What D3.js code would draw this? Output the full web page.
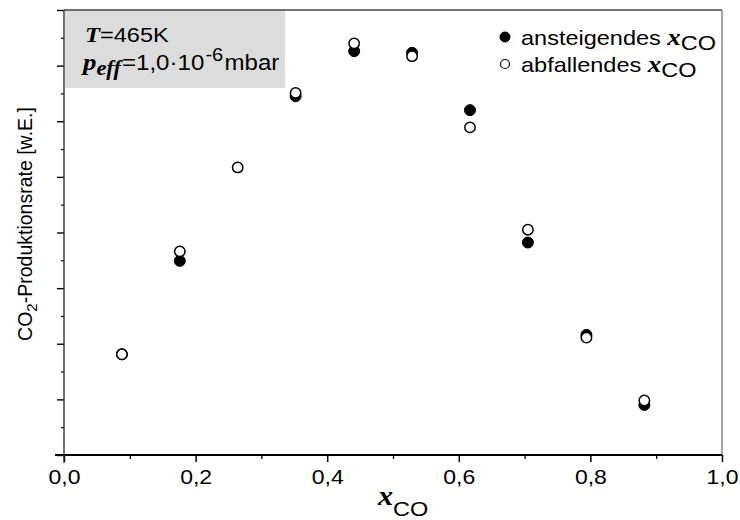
<!DOCTYPE html>
<html>
<head>
<meta charset="utf-8">
<script src="https://cdn.jsdelivr.net/npm/d3@7"></script>
<style>
  html, body { margin: 0; padding: 0; background: #fff; }
  svg { display: block; }
  text { font-family: "Liberation Sans", Arial, sans-serif; fill: #000; }
  .serif { font-family: "Liberation Serif", "Times New Roman", serif; font-weight: bold; font-style: italic; }
</style>
</head>
<body>
<svg id="chart" width="740" height="520"></svg>
<script>
// CO mole fraction at each measurement step
const xCO = [0.088, 0.176, 0.264, 0.352, 0.441, 0.529, 0.617, 0.705, 0.794, 0.882];
// CO2 production rate (arb. units) while x_CO is increased; null = no point drawn
const rateRising  = [1.81, 3.49, null, 6.45, 7.26, 7.23, 6.20, 3.82, 2.16, 0.90];
// CO2 production rate (arb. units) while x_CO is decreased
const rateFalling = [1.81, 3.66, 5.17, 6.51, 7.40, 7.17, 5.89, 4.05, 2.11, 0.98];

const xMajorTicks = [0, 0.2, 0.4, 0.6, 0.8, 1.0];
const xMinorTicks = [0.1, 0.3, 0.5, 0.7, 0.9];
const yMajorTicks = [0, 1, 2, 3, 4, 5, 6, 7, 8];
const yMinorTicks = [0.5, 1.5, 2.5, 3.5, 4.5, 5.5, 6.5, 7.5];

const svg = d3.select("#chart");
const plotLeft = 64, plotRight = 722, plotTop = 10, plotBottom = 455;
const WIDEN = 1.12;   // horizontal widening of the lettering

const x = d3.scaleLinear().domain([0, 1]).range([plotLeft, plotRight]);
const y = d3.scaleLinear().domain([0, 8]).range([plotBottom, plotTop]);

// text placed at (px,py) and widened horizontally around its anchor
const label = (px, py, size) => svg.append("text")
  .attr("transform", `translate(${px},${py}) scale(${WIDEN},1)`)
  .attr("font-size", size);

// Parameter box (upper left)
svg.append("rect")
  .attr("x", x(0) + 1).attr("y", y(8))
  .attr("width", 220).attr("height", 78)
  .attr("fill", "#dcdcdc");

// Frame: top and right edges
svg.append("line").attr("x1", x(0)).attr("x2", x(1)).attr("y1", y(8)).attr("y2", y(8))
  .attr("stroke", "#444").attr("stroke-width", 1.3);
svg.append("line").attr("x1", x(1)).attr("x2", x(1)).attr("y1", y(8)).attr("y2", y(0))
  .attr("stroke", "#777").attr("stroke-width", 1.3);

// X axis
const fmt = d => d.toFixed(1).replace(".", ",");
const gx = svg.append("g").attr("transform", `translate(0,${y(0)})`)
  .call(d3.axisBottom(x).tickValues(xMajorTicks).tickFormat(fmt).tickSize(7).tickSizeOuter(0).tickPadding(8));
gx.select(".domain").remove();
gx.selectAll(".tick line").attr("stroke", "#000").attr("stroke-width", 1.5);
gx.selectAll(".tick text")
  .attr("font-size", 20)
  .attr("font-family", "Liberation Sans, Arial, sans-serif")
  .attr("transform", `scale(${WIDEN + 0.03},1)`);
const gxm = svg.append("g").attr("transform", `translate(0,${y(0)})`)
  .call(d3.axisBottom(x).tickValues(xMinorTicks).tickFormat("").tickSize(4).tickSizeOuter(0));
gxm.select(".domain").remove();
gxm.selectAll(".tick line").attr("stroke", "#000").attr("stroke-width", 1.3);
svg.append("line").attr("x1", x(0) - 9).attr("x2", x(1)).attr("y1", y(0)).attr("y2", y(0))
  .attr("stroke", "#000").attr("stroke-width", 2);

// Y axis (no numeric labels)
const gy = svg.append("g").attr("transform", `translate(${x(0)},0)`)
  .call(d3.axisLeft(y).tickValues(yMajorTicks).tickFormat("").tickSize(7).tickSizeOuter(0));
gy.select(".domain").remove();
gy.selectAll(".tick line").attr("stroke", "#000").attr("stroke-width", 1.4);
const gym = svg.append("g").attr("transform", `translate(${x(0)},0)`)
  .call(d3.axisLeft(y).tickValues(yMinorTicks).tickFormat("").tickSize(3).tickSizeOuter(0));
gym.select(".domain").remove();
gym.selectAll(".tick line").attr("stroke", "#000").attr("stroke-width", 1.2);
svg.append("line").attr("x1", x(0)).attr("x2", x(0)).attr("y1", y(8)).attr("y2", y(0) + 8)
  .attr("stroke", "#222").attr("stroke-width", 1.3);

// Axis titles
const xt = label(378, 505, 21);
xt.append("tspan").attr("class", "serif").attr("font-size", 27).text("x");
xt.append("tspan").attr("dy", 11).text("CO");

const yt = svg.append("text")
  .attr("transform", `translate(32,${(105 + 343) / 2}) rotate(-90)`)
  .attr("text-anchor", "middle").attr("font-size", 19.5);
yt.append("tspan").text("CO");
yt.append("tspan").attr("font-size", 15).attr("dy", 5).text("2");
yt.append("tspan").attr("dy", -5).text("-Produktionsrate [w.E.]");

// Data points: rising series first, falling (open) on top
const pts = (vals) => xCO.map((v, i) => ({ x: v, y: vals[i] })).filter(d => d.y !== null);
svg.append("g").selectAll("circle").data(pts(rateRising)).join("circle")
  .attr("cx", d => x(d.x)).attr("cy", d => y(d.y)).attr("r", 5.5)
  .attr("fill", "#000").attr("stroke", "#000").attr("stroke-width", 1);
svg.append("g").selectAll("circle").data(pts(rateFalling)).join("circle")
  .attr("cx", d => x(d.x)).attr("cy", d => y(d.y)).attr("r", 5.2)
  .attr("fill", "#fff").attr("stroke", "#000").attr("stroke-width", 1.5);

// Parameter text
const t1 = label(85, 42, 21);
t1.append("tspan").attr("class", "serif").attr("font-size", 22).text("T");
t1.append("tspan").text("=465K");
const t2 = label(83, 70, 21.5);
t2.append("tspan").attr("class", "serif").attr("font-size", 24).text("p");
t2.append("tspan").attr("class", "serif").attr("font-size", 20).attr("dy", 5).text("eff");
t2.append("tspan").attr("dy", -5).attr("dx", 1).text("=1,0·10");
t2.append("tspan").attr("font-size", 18).attr("dy", -9).attr("dx", 1).text("-6");
t2.append("tspan").attr("dy", 9).attr("dx", 1).text("mbar");

// Legend
const legend = [
  { label: "ansteigendes ", filled: true, y: 37 },
  { label: "abfallendes ", filled: false, y: 64 }
];
svg.append("g").selectAll("circle").data(legend).join("circle")
  .attr("cx", 505).attr("cy", d => d.y).attr("r", d => d.filled ? 5 : 4.5)
  .attr("fill", d => d.filled ? "#000" : "#fff")
  .attr("stroke", "#000").attr("stroke-width", d => d.filled ? 1 : 1.2);
legend.forEach(d => {
  const t = label(521, d.y + 8, 21);
  t.append("tspan").text(d.label);
  t.append("tspan").attr("class", "serif").attr("font-size", 24).text("x");
  t.append("tspan").attr("dy", 5).text("CO");
});
</script>
</body>
</html>
